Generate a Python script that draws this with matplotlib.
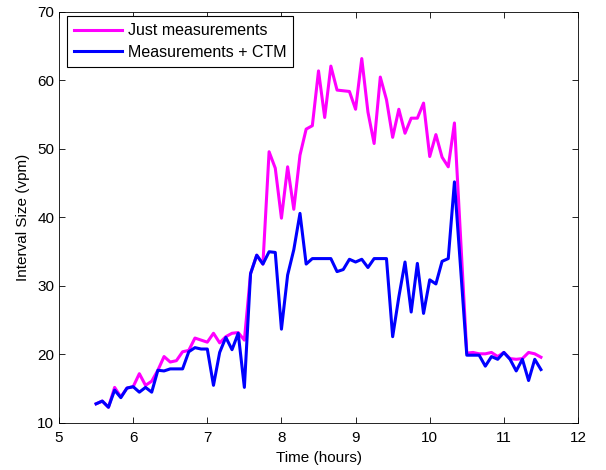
import numpy as np
import matplotlib
matplotlib.use("Agg")
import matplotlib.pyplot as plt

plt.rcParams['font.family'] = ['Liberation Sans', 'DejaVu Sans']

# time in hours, 5 minute steps from 5.5 to 11.5
start_hour = 5.5
step_hour = 1 / 12

just_meas = [12.8, 13.2, 12.3, 15.2, 13.8, 15.1, 15.3, 17.2, 15.5, 16.1,
             17.7, 19.7, 18.9, 19.1, 20.4, 20.6, 22.4, 22.1, 21.8, 23.1,
             21.7, 22.6, 23.1, 23.2, 22.1, 31.8, 34.5, 33.2, 49.6, 47.2,
             39.9, 47.4, 41.2, 49.1, 52.9, 53.4, 61.4, 54.6, 62.1, 58.6,
             58.5, 58.4, 55.8, 63.2, 55.4, 50.8, 60.5, 57.2, 51.7, 55.8,
             52.3, 54.5, 54.5, 56.7, 48.9, 52.1, 48.8, 47.4, 53.8, 37.0,
             20.2, 20.3, 20.1, 20.1, 20.3, 19.7, 20.3, 19.4, 19.3, 19.4,
             20.3, 20.1, 19.6]

meas_ctm = [12.8, 13.2, 12.3, 14.8, 13.7, 15.1, 15.3, 14.5, 15.2, 14.5,
            17.7, 17.6, 17.9, 17.9, 17.9, 20.4, 21.0, 20.8, 20.8, 15.5,
            20.3, 22.5, 20.7, 23.1, 15.2, 31.8, 34.5, 33.2, 35.0, 34.9,
            23.7, 31.6, 35.3, 40.6, 33.2, 34.0, 34.0, 34.0, 34.0, 32.1,
            32.4, 33.9, 33.5, 33.9, 32.7, 34.0, 34.0, 34.0, 22.6, 28.4,
            33.5, 26.2, 33.3, 26.0, 30.9, 30.3, 33.6, 34.0, 45.2, 32.6,
            19.9, 19.9, 19.9, 18.3, 19.7, 19.3, 20.3, 19.3, 17.6, 19.3,
            16.2, 19.3, 17.8]

hours = start_hour + step_hour * np.arange(len(just_meas))

fig = plt.figure(figsize=(6.06, 4.70), dpi=100)
ax = fig.add_axes([0.0974, 0.1, 0.8564, 0.8745])

ax.plot(hours, just_meas, color='#ff00ff', lw=2.2, label='Just measurements')
ax.plot(hours, meas_ctm, color='#0000ff', lw=2.2, label='Measurements + CTM')

ax.set_xlim(5, 12)
ax.set_ylim(10, 70)
ax.set_xticks(range(5, 13))
ax.set_yticks(range(10, 71, 10))
ax.tick_params(direction='in', top=True, right=True, labelsize=11, length=4, width=0.6)
ax.tick_params(axis='x', pad=6)
for s in ax.spines.values():
    s.set_linewidth(0.6)

ax.set_xlabel('Time (hours)', fontsize=11, labelpad=4)
ax.set_ylabel('Interval Size (vpm)', fontsize=11, labelpad=5)

leg = ax.legend(loc='upper left', fontsize=11.5, handlelength=3.0, handletextpad=0.35,
                fancybox=False, edgecolor='black', framealpha=1, borderpad=0.45,
                labelspacing=0.4, borderaxespad=0, bbox_to_anchor=(0.015, 0.99))
leg.get_frame().set_linewidth(0.8)

fig.savefig('out.png', dpi=100)
